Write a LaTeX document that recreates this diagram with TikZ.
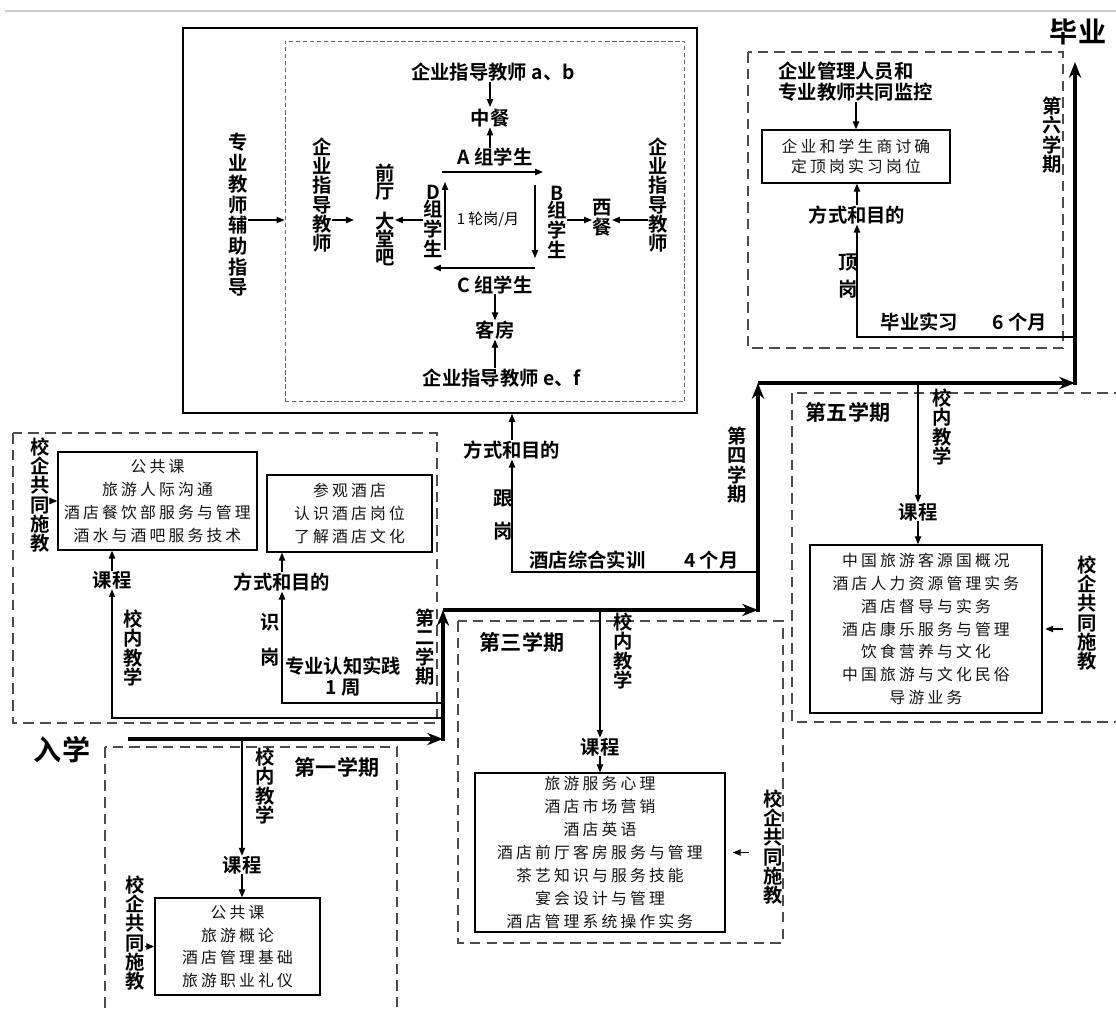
\documentclass[tikz,border=0pt]{standalone}
\usepackage{fontspec}
\setmainfont{Noto Sans CJK SC}[BoldFont={* Bold}]
\newfontfamily\coursefont{Noto Sans CJK SC}[LetterSpace=20]
\usetikzlibrary{arrows.meta}

\begin{document}
\begin{tikzpicture}[x=0.02cm, y=-0.02cm,
      every node/.style={inner sep=0pt},
      note/.style={font=\bfseries\fontsize{11}{11}\selectfont},
      vnote/.style={note, align=center},
      term/.style={font=\bfseries\fontsize{12}{12}\selectfont},
      milestone/.style={font=\bfseries\fontsize{16}{16}\selectfont},
      course/.style={draw, line width=0.8pt, align=center, text=black!92,
          font=\coursefont\fontsize{9}{13}\selectfont},
      arr/.style={line width=0.6pt, -{Triangle[length=4.5pt,width=3.6pt]}},
      flow/.style={line width=2.4pt, -{Stealth[length=9pt,width=7pt,inset=3pt]}},
      semester/.style={draw=black!70, line width=0.8pt, dash pattern=on 6pt off 3.5pt},
      rotation/.style={draw=black!60, line width=0.6pt, dash pattern=on 2.5pt off 1.5pt}]
  %.
  \clip (0,0) rectangle (1116,1011);
  \draw[black!20, line width=0.8pt] (5,11) -- (1116,11);

  % semester frames
  \draw[semester] (13,433) rectangle (437,723);
  \draw[semester] (105,747) rectangle (397,1040);
  \draw[semester] (458,621) rectangle (783,943);
  \draw[semester] (792,393) rectangle (1130,722);
  \draw[semester] (748,52) rectangle (1063,348);

  % main route
  \node[milestone] (enter) at (62,750) {入学};
  \node[milestone] (grad) at (1078,32) {毕业};
  \coordinate (s0) at (128,739);
  \coordinate (k1) at (443,739);
  \coordinate (k2) at (443,610);
  \coordinate (k3) at (758,610);
  \coordinate (k4) at (758,383);
  \coordinate (k5) at (1075,383);
  \coordinate (k6) at (1075,62);
  \draw[flow] (s0) -- (k1);
  \draw[flow, shorten <=-1.2pt] (k1) -- (k2);
  \draw[flow] (k2) -- (k3);
  \draw[flow, shorten <=-1.2pt] (k3) -- (k4);
  \draw[flow] (k4) -- (k5);
  \draw[flow, shorten <=-1.2pt] (k5) -- (k6);

  % first semester
  \node[term] (sem1) at (337,767) {第一学期};
  \coordinate (m1) at (242,739);
  \node[vnote] (in1) at (265,786) {校\\内\\教\\学};
  \node[note] (kc1) at (242,865) {课程};
  \node[course, minimum width=3.3cm, minimum height=1.94cm] (c1) at (237.5,946.5)
      {公共课\\旅游概论\\酒店管理基础\\旅游职业礼仪};
  \node[vnote] (co1) at (135,933) {校\\企\\共\\同\\施\\教};
  \draw[arr] (m1) -- (kc1.north);
  \draw[arr] (kc1.south) -- (kc1.south |- c1.north);
  \draw[arr] (co1.east |- c1.west) -- (c1.west);

  % second semester
  \node[vnote] (sem2) at (425,647) {第\\二\\学\\期};
  \node[course, minimum width=3.98cm, minimum height=1.96cm] (c2) at (157.5,501)
      {公共课\\旅游人际沟通\\酒店餐饮部服务与管理\\酒水与酒吧服务技术};
  \node[course, minimum width=3.3cm, minimum height=1.54cm] (v2) at (349.5,513.5)
      {参观酒店\\认识酒店岗位\\了解酒店文化};
  \node[vnote] (co2) at (40,495) {校\\企\\共\\同\\施\\教};
  \node[note] (kc2) at (112,580) {课程};
  \node[vnote] (in2) at (133,648) {校\\内\\教\\学};
  \node[note] (fs2) at (282,582) {方式和目的};
  \node[vnote] (rg2) at (270,640) {识\\[9pt]岗};
  \node[note, align=center] (pr2) at (343,677) {专业认知实践\\[1pt]1 周};
  \coordinate (m2a) at (443,718);
  \coordinate (m2b) at (443,703);
  \draw[arr] (m2a) -| (kc2.south);
  \draw[arr] (kc2.north) -- (kc2.north |- c2.south);
  \draw[arr] (m2b) -| (fs2.south);
  \draw[arr] (fs2.north) -- (fs2.north |- v2.south);
  \draw[arr] (co2.east |- c2.west) -- (c2.west);

  % third semester
  \node[term] (sem3) at (522,642) {第三学期};
  \coordinate (m3) at (600,610);
  \node[vnote] (in3) at (623,651) {校\\内\\教\\学};
  \node[note] (kc3) at (600,747) {课程};
  \node[course, minimum width=5cm, minimum height=3.18cm] (c3) at (600,852.5)
      {旅游服务心理\\酒店市场营销\\酒店英语\\酒店前厅客房服务与管理\\茶艺知识与服务技能\\宴会设计与管理\\酒店管理系统操作实务};
  \node[vnote] (co3) at (773,847) {校\\企\\共\\同\\施\\教};
  \draw[arr] (m3) -- (kc3.north);
  \draw[arr] (kc3.south) -- (c3.north);
  \draw[arr, shorten <=8pt, shorten >=4pt] (co3.west |- c3.east) -- (c3.east);

  % fourth semester: rotation in the hotel
  \node[draw, line width=1pt, minimum width=10.28cm, minimum height=7.7cm] (stage) at (440,220.5) {};
  \node[rotation, minimum width=8cm, minimum height=7.22cm] (ring) at (485,221.5) {};
  \coordinate (mid) at (0,220);
  \node[vnote, font=\bfseries\fontsize{11}{11.8}\selectfont] (assist) at (238,215) {专\\业\\教\\师\\辅\\助\\指\\导};
  \node[vnote] (tcd) at (322,195) {企\\业\\指\\导\\教\\师};
  \node[vnote, font=\bfseries\fontsize{11}{10.3}\selectfont] (front) at (385,215) {前\\厅\\[6pt]大\\堂\\吧};
  \node[vnote, font=\bfseries\fontsize{11}{10}\selectfont] (gD) at (433,221) {D\\组\\学\\生};
  \node[vnote, font=\bfseries\fontsize{11}{10}\selectfont] (gB) at (557,222) {B\\组\\学\\生};
  \node[vnote, font=\bfseries\fontsize{11}{10}\selectfont] (west) at (602,218) {西\\餐};
  \node[vnote] (tgh) at (658,195) {企\\业\\指\\导\\教\\师};
  \node[note] (tab) at (493,72) {企业指导教师 a、b};
  \node[note] (lunch) at (490,118) {中餐};
  \node[note] (gA) at (495,157) {A 组学生};
  \node[font=\fontsize{8.5}{8.5}\selectfont] (turn) at (488,220) {1 轮岗/月};
  \node[note] (gC) at (495,285) {C 组学生};
  \node[note] (room) at (495,330) {客房};
  \node[note] (tef) at (502,378) {企业指导教师 e、f};
  \coordinate (ra1) at (442,172);
  \coordinate (ra2) at (543,172);
  \coordinate (rb1) at (535,185);
  \coordinate (rb2) at (535,258);
  \coordinate (rc1) at (535,268);
  \coordinate (rc2) at (433,268);
  \coordinate (rd1) at (445,250);
  \coordinate (rd2) at (445,182);
  \draw[arr] (ra1) -- (ra2);
  \draw[arr] (rb1) -- (rb2);
  \draw[arr] (rc1) -- (rc2);
  \draw[arr] (rd1) -- (rd2);
  \draw[arr] (lunch |- tab.south) -- (lunch.south |- 0,107);
  \draw[arr] (lunch |- gA.north) -- (lunch.south);
  \draw[arr] (gC.south) -- (room.north);
  \draw[arr] (room |- tef.north) -- (room.south);
  \draw[arr] (assist.east |- mid) -- (ring.west |- mid);
  \draw[arr, shorten >=12pt] (tcd.east |- mid) -- (front.west |- mid);
  \draw[arr] (gD.west |- mid) -- (front.east |- mid);
  \draw[arr] (gB.east |- mid) -- (west.west |- mid);
  \draw[arr] (tgh.west |- mid) -- (west.east |- mid);
  \node[vnote] (sem4) at (737,465) {第\\四\\学\\期};
  \node[note] (fs4) at (512,450) {方式和目的};
  \node[vnote] (fg4) at (503,515) {跟\\[8pt]岗};
  \node[note] (pr4) at (634,560) {酒店综合实训\hspace{2em}4 个月};
  \coordinate (m4) at (758,572);
  \draw[arr] (m4) -| (fs4.south);
  \draw[arr] (fs4.north) -- (fs4.north |- stage.south);

  % fifth semester
  \node[term] (sem5) at (848,412) {第五学期};
  \coordinate (m5) at (918,383);
  \node[vnote] (in5) at (942,427) {校\\内\\教\\学};
  \node[note] (kc5) at (918,512) {课程};
  \node[course, minimum width=4.64cm, minimum height=3.36cm] (c5) at (926,629)
      {中国旅游客源国概况\\酒店人力资源管理实务\\酒店督导与实务\\酒店康乐服务与管理\\饮食营养与文化\\中国旅游与文化民俗\\导游业务};
  \node[vnote] (co5) at (1087,613) {校\\企\\共\\同\\施\\教};
  \draw[arr] (m5) -- (kc5.north);
  \draw[arr] (kc5.south) -- (kc5.south |- c5.north);
  \draw[arr, shorten <=8pt, shorten >=1.5pt] (co5.west |- c5.east) -- (c5.east);

  % sixth semester
  \node[vnote] (sem6) at (1052,135) {第\\六\\学\\期};
  \node[note, align=left, anchor=west] (mgr) at (778,82) {企业管理人员和\\[1pt]专业教师共同监控};
  \node[course, minimum width=3.76cm, minimum height=1.06cm, font=\coursefont\fontsize{9}{11}\selectfont] (c6) at (856,156.5)
      {企业和学生商讨确\\定顶岗实习岗位};
  \node[note] (fs6) at (857,215) {方式和目的};
  \node[vnote, font=\bfseries\fontsize{11}{11}\selectfont] (dg6) at (848,276) {顶\\[4pt]岗};
  \node[note] (pr6) at (964,322) {毕业实习\hspace{1.8em}6 个月};
  \coordinate (m6) at (1075,337);
  \draw[arr] (c6.north |- mgr.south) -- (c6.north);
  \draw[arr] (m6) -| (fs6.south);
  \draw[arr] (fs6.north) -- (fs6.north |- c6.south);
  %.
\end{tikzpicture}
\end{document}
